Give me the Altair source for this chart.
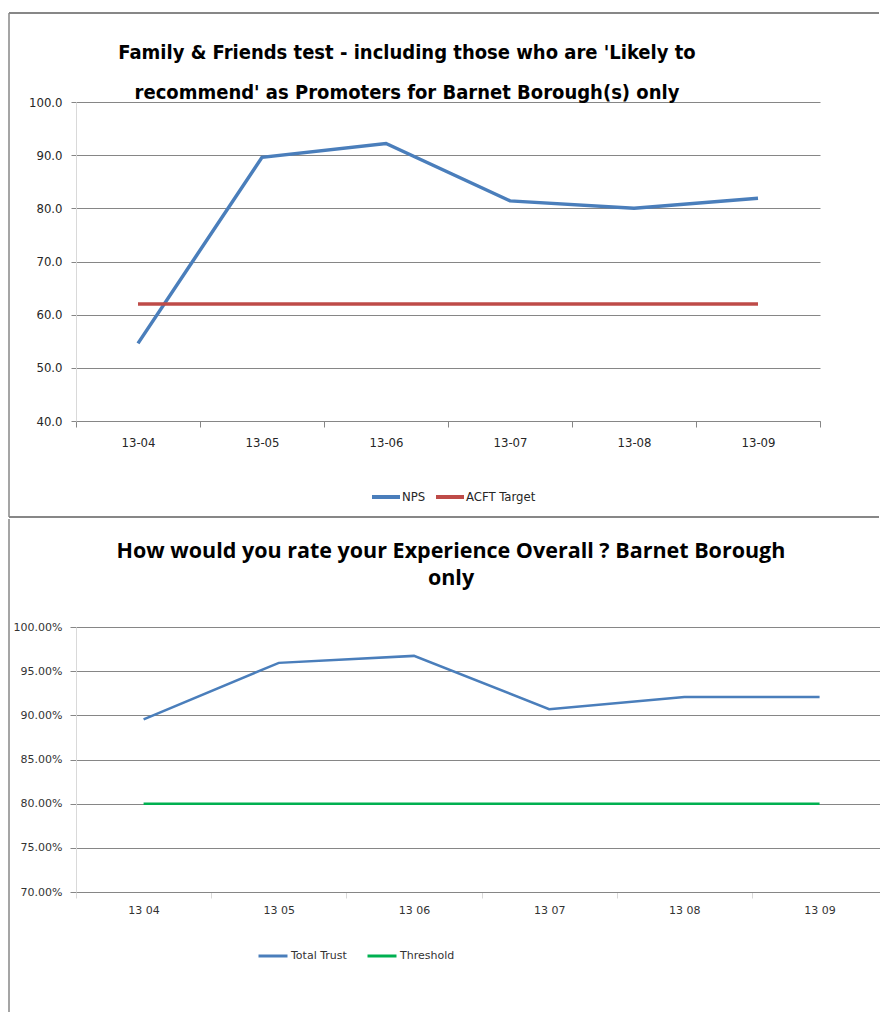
import json
import altair as alt
import pandas as pd

# ---------------- data ----------------
months_top = ["13-04", "13-05", "13-06", "13-07", "13-08", "13-09"]
nps = [54.6, 89.6, 92.2, 81.4, 80.0, 81.9]
acft_target = [62.0, 62.0, 62.0, 62.0, 62.0, 62.0]
top_series = ["NPS", "ACFT Target"]
top_ticks = [40, 50, 60, 70, 80, 90, 100]
top_title_1 = "Family & Friends test - including those who are 'Likely to"
top_title_2 = "recommend' as Promoters for Barnet Borough(s) only"

months_bottom = ["13 04", "13 05", "13 06", "13 07", "13 08", "13 09"]
month_index = [0, 1, 2, 3, 4, 5]
total_trust = [0.8955, 0.9594, 0.9673, 0.9070, 0.9207, 0.9207]
threshold = [0.80, 0.80, 0.80, 0.80, 0.80, 0.80]
bottom_series = ["Total Trust", "Threshold"]
bottom_ticks = [0.70, 0.75, 0.80, 0.85, 0.90, 0.95, 1.00]
bottom_title = ["How would you rate your Experience Overall ? Barnet Borough", "only"]

BLUE = "#4A7EBB"
RED = "#BE4B48"
GREEN = "#00B050"
GRID = "#868686"
LIGHT = "#D9D9D9"
FRAME = "#878787"
COND = "Liberation Sans Narrow, DejaVu Sans Condensed, Roboto Condensed, Liberation Sans, sans-serif"
PLAIN = "DejaVu Sans, Verdana, sans-serif"
TITLE2 = "Open Sans, Lato, Liberation Sans, sans-serif"

top_df = pd.DataFrame({
    "month": months_top + months_top,
    "series": [top_series[0]] * len(nps) + [top_series[1]] * len(acft_target),
    "value": nps + acft_target,
})
bottom_df = pd.DataFrame({
    "idx": month_index + month_index,
    "series": [bottom_series[0]] * len(total_trust) + [bottom_series[1]] * len(threshold),
    "value": total_trust + threshold,
})
one = pd.DataFrame({"k": [0]})

# ---------------- top panel ----------------
W1, H1 = 744, 319

top_lines = alt.Chart(top_df).mark_line(strokeWidth=3.5).encode(
    x=alt.X("month:N", sort=months_top, bandPosition=0.5,
            scale=alt.Scale(type="band", paddingInner=0, paddingOuter=0),
            axis=alt.Axis(title=None, tickBand="extent", grid=False, domainColor=GRID,
                          tickColor=GRID, tickSize=6, labelPadding=9, labelAngle=0,
                          labelFont=COND, labelFontSize=13, labelColor="#262626")),
    y=alt.Y("value:Q", scale=alt.Scale(domain=[40, 100], nice=False, zero=False),
            axis=alt.Axis(title=None, values=top_ticks, format=".1f", grid=True,
                          gridColor=GRID, gridWidth=1, domainColor=LIGHT, tickColor=GRID,
                          tickSize=5, labelPadding=9, labelFont=COND, labelFontSize=13,
                          labelColor="#262626")),
    color=alt.Color("series:N", scale=alt.Scale(domain=top_series, range=[BLUE, RED]),
                    legend=alt.Legend(title=None, orient="none", legendX=294, legendY=379,
                                      direction="horizontal", symbolType="stroke",
                                      symbolSize=784, symbolStrokeWidth=4, labelOffset=0,
                                      columnPadding=2, labelFont=COND, labelFontSize=13,
                                      labelColor="#262626")),
)

top_frame_t = alt.Chart(one).mark_rule(color=FRAME, strokeWidth=2).encode(
    x=alt.value(-67), x2=alt.value(803), y=alt.value(-89))
top_frame_b = alt.Chart(one).mark_rule(color=FRAME, strokeWidth=2).encode(
    x=alt.value(-67), x2=alt.value(803), y=alt.value(415))
top_frame_l = alt.Chart(one).mark_rule(color=FRAME, strokeWidth=1.5).encode(
    x=alt.value(-67), y=alt.value(-89), y2=alt.value(415))
top_title_a = alt.Chart(one).mark_text(
    align="center", baseline="alphabetic", font=COND, fontSize=20, fontWeight="bold",
    color="#000000").encode(
    x=alt.value(331), y=alt.value(-43), text=alt.value(top_title_1))
top_title_b = alt.Chart(one).mark_text(
    align="center", baseline="alphabetic", font=COND, fontSize=20, fontWeight="bold",
    color="#000000").encode(
    x=alt.value(331), y=alt.value(-3), text=alt.value(top_title_2))

top = alt.layer(top_frame_t, top_frame_b, top_frame_l, top_title_a, top_title_b,
                top_lines).properties(width=W1, height=H1)

# ---------------- bottom panel ----------------
W2, H2 = 804, 265
HALF = 67.6
label_expr = json.dumps(months_bottom) + "[datum.value]"

bottom_lines = alt.Chart(bottom_df).mark_line(strokeWidth=2.5).encode(
    x=alt.X("idx:Q", scale=alt.Scale(domain=[-0.5, 5.447], nice=False, zero=False),
            axis=alt.Axis(title=None, values=month_index, labelExpr=label_expr,
                          tickOffset=-HALF, labelOffset=HALF, grid=False, domainColor=GRID,
                          tickColor=LIGHT, tickSize=6, labelPadding=6, labelFont=PLAIN,
                          labelFontSize=11, labelColor="#333333", labelFlush=False,
                          labelOverlap=False)),
    y=alt.Y("value:Q", scale=alt.Scale(domain=[0.70, 1.00], nice=False, zero=False),
            axis=alt.Axis(title=None, values=bottom_ticks, format=".2%", grid=True,
                          gridColor=GRID, gridWidth=1, domainColor=LIGHT, tickColor=GRID,
                          tickSize=6, labelPadding=8, labelFont=PLAIN, labelFontSize=11,
                          labelColor="#333333")),
    color=alt.Color("series:N", scale=alt.Scale(domain=bottom_series, range=[BLUE, GREEN]),
                    legend=alt.Legend(title=None, orient="none", legendX=181, legendY=313,
                                      direction="horizontal", symbolType="stroke",
                                      symbolSize=841, symbolStrokeWidth=3, labelOffset=2,
                                      columnPadding=14, labelFont=PLAIN, labelFontSize=11,
                                      labelColor="#333333")),
)

bottom_frame_l = alt.Chart(one).mark_rule(color=FRAME, strokeWidth=1.5).encode(
    x=alt.value(-67), y=alt.value(-108), y2=alt.value(386))
bottom_title_mark = alt.Chart(one).mark_text(
    align="center", baseline="alphabetic", font=TITLE2, fontSize=21.5, fontWeight="bold",
    lineHeight=27, color="#000000").encode(
    x=alt.value(375), y=alt.value(-69), text=alt.value(bottom_title))

bottom = alt.layer(bottom_frame_l, bottom_title_mark, bottom_lines).properties(
    width=W2, height=H2)

chart = alt.concat(top, bottom, columns=1, spacing=0).resolve_scale(
    x="independent", y="independent", color="independent"
).properties(
    padding={"left": 8, "top": 12, "right": 0, "bottom": 0},
    background="#FFFFFF",
).configure_view(stroke=None)

chart.save("out.html", embed_options={"renderer": "svg", "actions": False})
